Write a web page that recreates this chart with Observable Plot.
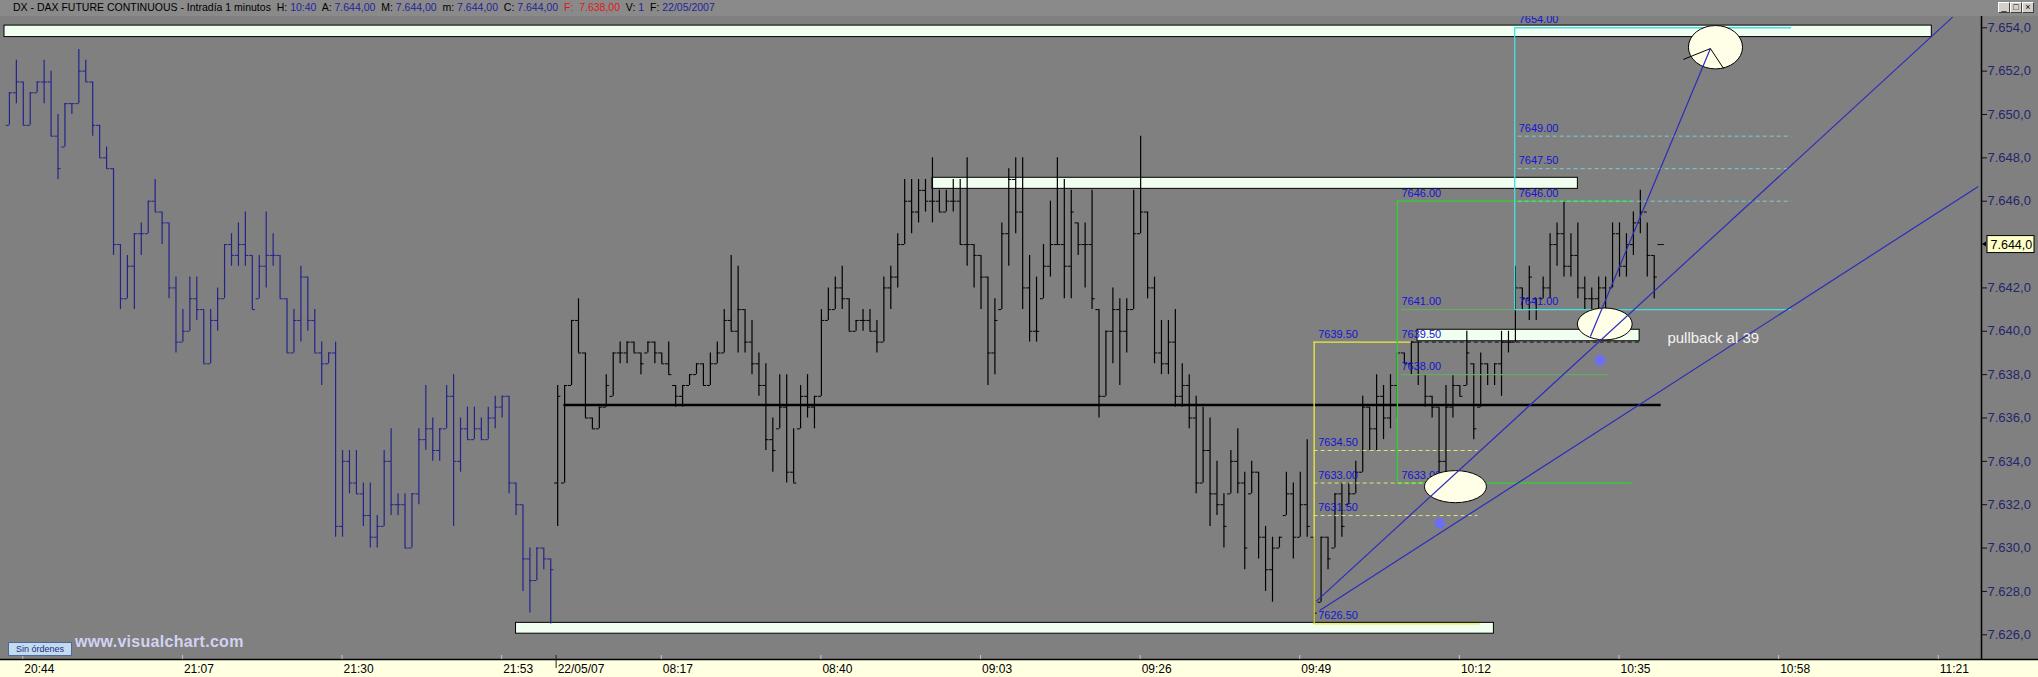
<!DOCTYPE html>
<html><head><meta charset="utf-8">
<script src="https://cdn.jsdelivr.net/npm/d3@7"></script>
<script src="https://cdn.jsdelivr.net/npm/@observablehq/plot@0.6"></script>
<style>
html,body{margin:0;padding:0;background:#808080;}
body{width:2038px;height:677px;overflow:hidden;position:relative;font-family:"Liberation Sans",Arial,sans-serif;}
#title{position:absolute;left:0;top:0;width:2038px;height:16px;background:#8a8a8a;z-index:5;font-size:10.5px;line-height:15px;white-space:pre;color:#000;}
#title .t{position:absolute;left:13px;top:0;}
#title .v{color:#24249c;}
#title .r{color:#e01818;}
#btns{position:absolute;left:1998px;top:2px;}
#btns div{position:absolute;top:0;width:10px;height:9px;background:#d4d0c8;border:1px solid;border-color:#fff #404040 #404040 #fff;font-size:9px;line-height:8px;text-align:center;color:#000;}
#chart{position:absolute;left:0;top:16px;}
#sin{position:absolute;left:8px;top:642px;width:62px;height:12px;background:#c4daf0;border:1px solid #4a6a9a;font-size:9px;line-height:12px;color:#1c2c7c;text-align:center;z-index:4;}
#web{position:absolute;left:75px;top:633px;font-size:16px;font-weight:bold;color:#d2d2f4;z-index:4;letter-spacing:0.3px;}
</style></head><body>
<div id="title"><span class="t">DX - DAX FUTURE CONTINUOUS - Intradía 1 minutos  H: <span class="v">10:40</span>  A: <span class="v">7.644,00</span>  M: <span class="v">7.644,00</span>  m: <span class="v">7.644,00</span>  C: <span class="v">7.644,00</span>  <span class="r">F:  7.638,00</span>  V: <span class="v">1</span>  F: <span class="v">22/05/2007</span></span>
<div id="btns"><div style="left:0">_</div><div style="left:12px">□</div><div style="left:24px">×</div></div></div>
<div id="chart"></div>
<div id="sin">Sin órdenes</div>
<div id="web">www.visualchart.com</div>
<script>
// ---------- OHLC data (1-minute bars), bar number 0 = 20:44 ----------
const firstBarIndex = -2;
const newSessionIndex = 77;
const barHigh = [
7651,7652.5,7651.5,7651,7651.5,7652.5,7652,7650,7650.5,7650.5,
7653,7652.5,7651.5,7649.5,7648.5,7647.5,7644,7643.5,7644.5,7645,
7646,7647,7645.5,7645,7642.5,7641,7642.5,7642.5,7641,7641,
7642,7644,7644.5,7645,7645.5,7643.5,7643.5,7645.5,7644.5,7643.5,
7641.5,7641,7643,7642.5,7641,7639.5,7639,7639.5,7634.5,7634.5,
7634.5,7633,7633,7631.5,7634.5,7635.5,7632.5,7632.5,7632.5,7635.5,
7637.5,7636,7635.5,7637.5,7638,7636,7636.5,7636.5,7636,7636.5,
7637,7637,7637,7633,7632,7630,7630,7630,7629.5,7637.5,
7637.5,7640.5,7641.5,7639,7636,7636.5,7638,7639,7639.5,7639.5,
7639.5,7639,7639.5,7639.5,7639,7639.5,7637.5,7637.5,7638,7638.5,
7638.5,7639,7639.5,7641,7643.5,7643,7641,7640.5,7639,7638.5,
7636,7638,7638,7635.5,7637.5,7638,7637,7641,7642,7642.5,
7643,7641.5,7640.5,7641,7641,7640.5,7642.5,7643,7644.5,7647,
7647,7647,7647,7648,7646.5,7646.5,7647,7647,7648,7644,
7643.5,7642.5,7641.5,7645,7647.5,7648,7648,7643.5,7642.5,7644,
7646,7648,7647,7646.5,7645,7645,7646.5,7641,7640,7642,
7641.5,7641.5,7646.5,7649,7645.5,7642.5,7640.5,7640.5,7641,7638.5,
7638,7637,7636.5,7636,7634,7632.5,7634.5,7635.5,7633.5,7634,
7633.5,7631,7630.5,7630.5,7633.5,7633,7633.5,7635,7630.5,7630.5,
7630.5,7632.5,7633,7633,7634,7637,7636.5,7638,7637.5,7638,
7639,7639,7639.5,7639.5,7638,7637,7636.5,7637.5,7638,7637.5,
7640,7638.5,7639,7638.5,7638.5,7640,7640,7643,7642,7643,
7641.5,7642.5,7644.5,7645,7646,7644.5,7645,7642.5,7642,7642.5,
7642.5,7645,7645,7644.5,7645.5,7646.5,7645,7643.5,7644];
const barLow = [
7649.5,7650.5,7649.5,7649.5,7651,7650.5,7649,7647,7648.5,7650,
7650.5,7651.5,7649,7648,7647.5,7643.5,7641,7641.5,7641,7643.5,
7644.5,7645.5,7644,7641.5,7639,7639.5,7640,7640.5,7638.5,7638.5,
7640,7641.5,7643,7643,7643,7641,7641.5,7642,7643,7641.5,
7639,7639,7639.5,7640,7639,7637.5,7638.5,7630.5,7630.5,7632.5,
7632.5,7631,7630,7630,7631,7631.5,7631.5,7630,7630,7632,
7634.5,7634,7634,7635.5,7631,7633.5,7635,7635,7635,7635,
7635.5,7636,7632.5,7631.5,7628,7627,7628.5,7629,7626.5,7631,
7633,7637.5,7639,7636,7635.5,7635.5,7636.5,7637,7638.5,7638.5,
7639,7638,7639,7638.5,7638.5,7638,7636.5,7636.5,7637.5,7638,
7637.5,7637.5,7638.5,7639,7640,7639,7639,7638,7637,7634.5,
7633.5,7635.5,7633,7633,7635.5,7636,7635.5,7637,7640.5,7641,
7641,7640,7640,7640,7640,7639,7639.5,7641,7642,7644,
7644.5,7645,7645.5,7645,7645.5,7645.5,7645.5,7644,7643,7642,
7641,7637.5,7638,7641,7643,7644.5,7641,7639.5,7639.5,7641.5,
7642.5,7644,7641.5,7641.5,7643.5,7642,7641,7636,7637,7638.5,
7637.5,7639,7641,7644.5,7641.5,7638.5,7638,7638,7636.5,7636.5,
7635.5,7632.5,7633,7631,7631.5,7630,7632.5,7632.5,7629,7632.5,
7629.5,7628,7627.5,7630,7631.5,7629.5,7630.5,7630.5,7626.5,7627.5,
7629,7630,7630.5,7632,7632.5,7633.5,7634.5,7634.5,7635,7635.5,
7636,7638.5,7638,7637.5,7636.5,7636,7633,7633.5,7636,7637,
7637.5,7635,7636.5,7637.5,7637.5,7637,7639,7639.5,7641,7640.5,
7640.5,7641.5,7641.5,7643,7642.5,7642.5,7641.5,7641,7640,7641,
7640.5,7642,7642.5,7642.5,7643.5,7644.5,7642.5,7641.5,7644];
const barOpen = [
7649.5,7651,7651.5,7649.5,7651,7651.5,7651.5,7649,7648.5,7650.5,
7650.5,7652,7651.5,7649.5,7648,7647.5,7644,7641.5,7643,7644.5,
7644.5,7646,7645.5,7645,7642,7639.5,7640,7641.5,7641,7638.5,
7640.5,7641.5,7644,7643.5,7644,7643.5,7641.5,7643,7643.5,7643.5,
7641.5,7639,7640.5,7642.5,7640.5,7639,7638.5,7639,7631,7634,
7633,7632.5,7631.5,7630.5,7631,7634,7632,7632,7630,7632.5,
7635,7635.5,7634.5,7635.5,7637,7634,7635.5,7635,7635.5,7635,
7636,7636.5,7637,7633,7632,7629.5,7628.5,7630,7629.5,7633,
7633,7637.5,7640.5,7639,7636,7635.5,7636.5,7637,7639,7639,
7639.5,7639,7639,7639.5,7639,7638.5,7637.5,7637,7637.5,7638,
7638.5,7637.5,7638.5,7639,7640.5,7640,7641,7639.5,7638.5,7637.5,
7635,7635.5,7636.5,7633.5,7635.5,7637,7636.5,7637,7640.5,7641,
7642,7641.5,7640,7640.5,7640.5,7640,7639.5,7642,7642.5,7644,
7646,7645.5,7646.5,7646,7646,7645.5,7646,7646,7644,7644,
7643.5,7642.5,7639,7641,7644.5,7647,7645.5,7642,7640,7641.5,
7643,7644,7644,7643,7645,7644,7644,7641,7637,7640,
7641,7640,7641,7644.5,7645.5,7642,7639,7638.5,7639.5,7637,
7637.5,7636,7633,7634.5,7632.5,7632,7632.5,7634,7633,7632.5,
7633.5,7630.5,7629,7630,7631.5,7632.5,7630.5,7632,7630.5,7627.5,
7630.5,7630,7632.5,7632,7632.5,7633.5,7636.5,7635.5,7637,7636,
7637.5,7639,7638.5,7639.5,7638,7637,7636.5,7634,7636.5,7637.5,
7637.5,7638.5,7636.5,7638.5,7638,7638.5,7639.5,7639.5,7642,7641.5,
7641.5,7641.5,7642,7644,7644.5,7643,7643.5,7642,7641.5,7641.5,
7642,7642,7644.5,7643,7644,7645,7645.5,7643.5,7644];
const barClose = [
7651,7651.5,7649.5,7651,7651.5,7651.5,7649,7647.5,7650.5,7650.5,
7652,7651.5,7649.5,7648,7647.5,7644,7641.5,7643,7644.5,7644.5,
7646,7645.5,7645,7642,7639.5,7640,7641.5,7641,7638.5,7640.5,
7641.5,7644,7643.5,7644,7643.5,7641,7643,7643.5,7643.5,7641.5,
7639,7640.5,7642.5,7640.5,7639,7638.5,7639,7631,7634,7633,
7632.5,7631.5,7630.5,7631,7634,7632,7632,7630,7632.5,7635,
7635.5,7634.5,7635.5,7637,7634,7635.5,7635,7635.5,7635,7636,
7636.5,7637,7633,7632,7629.5,7628.5,7630,7629.5,7629,7637,
7637.5,7640.5,7639,7636,7635.5,7636.5,7637.5,7639,7639,7639.5,
7639,7638.5,7639.5,7639,7638.5,7638,7637,7637.5,7638,7638.5,
7637.5,7638.5,7639,7640.5,7640,7641,7639.5,7638.5,7637.5,7635,
7634.5,7636.5,7633.5,7633,7637,7636.5,7637,7640.5,7641,7642,
7641.5,7640,7640.5,7640.5,7640,7639.5,7642,7642.5,7644,7646,
7645.5,7646.5,7646,7646,7645.5,7646,7646,7644,7644,7643.5,
7642.5,7639,7640.5,7644.5,7647,7645.5,7642,7640,7640,7643,
7644,7644,7643,7645.5,7644,7644,7641.5,7637,7640,7641,
7640,7641,7644.5,7645.5,7642,7639,7638.5,7639.5,7637,7637.5,
7636,7633,7634.5,7632.5,7632,7631,7634,7633,7630,7633.5,
7630.5,7629,7630,7630.5,7632.5,7630.5,7632,7631,7627,7630.5,
7629.5,7632.5,7631,7632.5,7633.5,7636.5,7635.5,7637,7636,7637.5,
7639,7638.5,7639.5,7638,7637,7636.5,7634,7636.5,7637.5,7637,
7639,7635.5,7638.5,7638,7638.5,7639.5,7639.5,7642,7641.5,7642.5,
7641,7642,7644,7644.5,7643,7643.5,7642,7641.5,7641.5,7642,
7641,7644.5,7643,7644,7645,7645.5,7643.5,7642.5,7644];

// ---------- axes ----------
const yTicks = [7626,7628,7630,7632,7634,7636,7638,7640,7642,7646,7648,7650,7652,7654];
const yTickLabels = ["7.626,0","7.628,0","7.630,0","7.632,0","7.634,0","7.636,0","7.638,0","7.640,0","7.642,0","7.646,0","7.648,0","7.650,0","7.652,0","7.654,0"];
const lastPrice = 7644;
const lastPriceLabel = "7.644,0";
const xTickPos = [0,23,46,69,76.85,92,115,138,161,184,207,230,253,276];
const xTickLabels = ["20:44","21:07","21:30","21:53","22/05/07","08:17","08:40","09:03","09:26","09:49","10:12","10:35","10:58","11:21"];
const dateTickPos = 76.85;

// ---------- annotations (bar number / price) ----------
const bandX1 = [-2.71, 131.0, 200.9, 71.0];
const bandX2 = [275.0, 224.0, 232.9, 211.9];
const bandLo = [7653.57, 7646.57, 7639.54, 7626.05];
const bandHi = [7654.10, 7647.08, 7640.07, 7626.55];

const pivotLevel = 7636.6, pivotStart = 77.9, pivotEnd = 236.0;

// retracement boxes: cyan, green, yellow
const solidLevel = [7654, 7641, 7646, 7633, 7639.5, 7626.5, 7641, 7638];
const solidX1    = [214.9, 214.9, 198.0, 198.0, 186.0, 186.0, 198.6, 198.6];
const solidX2    = [254.8, 254.8, 231.8, 231.8, 200.0, 209.9, 214.9, 228.5];
const solidColor = ["#3fe2e2","#3fe2e2","#2ed42e","#2ed42e","#ecec3c","#ecec3c","#66a866","#66a866"];
const dashLevel = [7649, 7647.5, 7646, 7634.5, 7633, 7631.5, 7639.5];
const dashX1    = [215.4, 215.4, 215.4, 186.0, 186.0, 186.0, 200.0];
const dashX2    = [254.8, 254.8, 254.8, 209.6, 209.6, 209.6, 232.9];
const dashColor = ["#74d2d2","#74d2d2","#74d2d2","#e4e46c","#e4e46c","#e4e46c","#111111"];
const vertX  = [214.9, 198.0, 186.0];
const vertY1 = [7641, 7633, 7626.5];
const vertY2 = [7654, 7646, 7639.5];
const vertColor = ["#3fe2e2","#2ed42e","#ecec3c"];
const levelLabelX = [214.9,214.9,214.9,214.9,214.9, 198.0,198.0,198.0,198.0,198.0, 186.0,186.0,186.0,186.0,186.0];
const levelLabelY = [7654,7649,7647.5,7646,7641, 7646,7641,7639.5,7638,7633, 7639.5,7634.5,7633,7631.5,7626.5];
const levelLabelText = ["7654.00","7649.00","7647.50","7646.00","7641.00","7646.00","7641.00","7639.50","7638.00","7633.00","7639.50","7634.50","7633.00","7631.50","7626.50"];

// trend lines (A, B) and target arrow (C)
const trendX1 = [186.3, 186.8, 225.8];
const trendY1 = [7627.54, 7627.12, 7639.76];
const trendX2 = [278.0, 281.7, 243.1];
const trendY2 = [7654.49, 7646.68, 7653.04];
const arrowTip = [243.1, 7653.04];
const arrowWingX = [239.2, 245.0];
const arrowWingY = [7652.54, 7652.12];

// ellipses (bounding boxes)
const ellX1 = [240.0, 224.0, 201.96];
const ellX2 = [247.8, 231.9, 210.9];
const ellY1 = [7652.08, 7639.58, 7632.07];
const ellY2 = [7654.08, 7641.05, 7633.55];

const markerX = [227.2, 204.1];
const markerY = [7638.66, 7631.15];
const noteText = "pullback al 39", noteX = 236.9, noteY = 7639.67;

// ---------- build ----------
const bars = barHigh.map((h, k) => ({i: firstBarIndex + k, h, l: barLow[k], o: barOpen[k], c: barClose[k]}));
const barColor = d => d.i < newSessionIndex ? "#23238c" : "#000000";
const bands = bandX1.map((x1, k) => ({x1, x2: bandX2[k], y1: bandLo[k], y2: bandHi[k]}));
const solids = solidLevel.map((y, k) => ({y, x1: solidX1[k], x2: solidX2[k], c: solidColor[k]}));
const dashes = dashLevel.map((y, k) => ({y, x1: dashX1[k], x2: dashX2[k], c: dashColor[k]}));
const verts = vertX.map((x, k) => ({x, y1: vertY1[k], y2: vertY2[k], c: vertColor[k]}));
const levelLabels = levelLabelText.map((t, k) => ({t, x: levelLabelX[k], y: levelLabelY[k]}));
const trends = trendX1.map((x1, k) => ({x1, y1: trendY1[k], x2: trendX2[k], y2: trendY2[k]}));
const wings = arrowWingX.map((x, k) => ({x1: arrowTip[0], y1: arrowTip[1], x2: x, y2: arrowWingY[k]}));
const markers = markerX.map((x, k) => ({x, y: markerY[k]}));
const yLabelMap = new Map(yTicks.map((t, k) => [t, yTickLabels[k]]));
const xLabelMap = new Map(xTickPos.map((t, k) => [t, xTickLabels[k]]));

const TREND = "#2c2cbd", LASTFILL = "#010101";
const chart = Plot.plot({
  width: 2038, height: 661,
  marginLeft: 0, marginRight: 57, marginTop: 0, marginBottom: 18,
  x: {domain: [-3.285, 282.16], axis: null},
  y: {domain: [7624.86, 7654.52], axis: null},
  style: {background: "#808080", fontFamily: "'Liberation Sans', Arial, sans-serif", overflow: "visible"},
  marks: [
    Plot.rect(bands, {x1: "x1", x2: "x2", y1: "y1", y2: "y2", fill: "#f0fff0", stroke: "#000", strokeWidth: 1}),
    Plot.ruleX(bars, {x: "i", y1: "l", y2: "h", stroke: barColor, strokeWidth: 1.2}),
    Plot.ruleY(bars, {y: "o", x1: d => d.i - 0.45, x2: "i", stroke: barColor, strokeWidth: 1}),
    Plot.ruleY(bars, {y: "c", x1: "i", x2: d => d.i + 0.45, stroke: barColor, strokeWidth: 1}),
    Plot.ruleY([pivotLevel], {x1: pivotStart, x2: pivotEnd, stroke: "#000", strokeWidth: 2.6}),
    Plot.ruleY(solids, {y: "y", x1: "x1", x2: "x2", stroke: "c", strokeWidth: 1.3}),
    Plot.ruleY(dashes, {y: "y", x1: "x1", x2: "x2", stroke: "c", strokeWidth: 1, strokeDasharray: "4,3"}),
    Plot.ruleX(verts, {x: "x", y1: "y1", y2: "y2", stroke: "c", strokeWidth: 1.3}),
    Plot.text(levelLabels, {x: "x", y: "y", text: "t", dx: 4, dy: -8, textAnchor: "start", fill: "#1414d2", fontSize: 11}),
    Plot.link(trends, {x1: "x1", y1: "y1", x2: "x2", y2: "y2", stroke: TREND, strokeWidth: 1.2}),
    Plot.link(wings, {x1: "x1", y1: "y1", x2: "x2", y2: "y2", stroke: "#000", strokeWidth: 1}),
    Plot.dot(markers, {x: "x", y: "y", r: 5.5, fill: "#6e6ef0", stroke: "none"}),
    Plot.text([noteText], {x: noteX, y: noteY, text: d => d, textAnchor: "start", fill: "#f4f4f4", fontSize: 15}),
    Plot.axisY({ticks: yTicks, anchor: "right", tickSize: 5, tickPadding: 1, tickFormat: d => yLabelMap.get(d), fontSize: 13, fill: "#25256c", stroke: "#111"}),
    Plot.text([lastPriceLabel], {y: [lastPrice], frameAnchor: "right", dx: 9, textAnchor: "start", text: d => d, fill: LASTFILL, fontSize: 12.5}),
    Plot.axisX({ticks: xTickPos, anchor: "bottom", tickSize: 0, tickPadding: 5, tickFormat: d => xLabelMap.get(d), textAnchor: "start", dx: 1, fontSize: 12, fill: "#000"})
  ]
});
document.getElementById("chart").appendChild(chart);

// ---------- chrome drawn with the plot's own scales ----------
const svg = d3.select(chart);
const xs = chart.scale("x"), ys = chart.scale("y");
const X = v => xs.apply(v), Y = v => ys.apply(v);
const [xl, xr] = xs.range, [yb, yt] = ys.range;
function markGroup(attr, val) {
  const el = chart.querySelector(`[${attr}="${val}"]`);
  if (!el) return null;
  let g = el;
  while (g.parentNode && g.parentNode !== chart) g = g.parentNode;
  return g.parentNode === chart ? g : null;
}
svg.insert("rect", ":first-child").attr("x", 0).attr("y", yb).attr("width", 2038).attr("height", 661 - yb).attr("fill", "#ffffe1");
svg.append("line").attr("x1", 0).attr("x2", 2038).attr("y1", yb + 0.5).attr("y2", yb + 0.5).attr("stroke", "#000").attr("stroke-width", 1.5);
svg.append("line").attr("x1", xr + 0.5).attr("x2", xr + 0.5).attr("y1", 0).attr("y2", yb).attr("stroke", "#000").attr("stroke-width", 1.5);
xTickPos.forEach(p => {
  const big = p === dateTickPos;
  svg.append("line").attr("x1", X(p)).attr("x2", X(p)).attr("y1", yb - 4).attr("y2", big ? yb + 9 : yb)
    .attr("stroke", big ? "#222" : "#c4c4c4").attr("stroke-width", 1);
});
// ellipses, beneath the trend lines
const trendG = markGroup("stroke", TREND);
const eg = trendG ? svg.insert("g", () => trendG) : svg.append("g");
ellX1.forEach((x1, k) => {
  const cx = (X(x1) + X(ellX2[k])) / 2, cy = (Y(ellY1[k]) + Y(ellY2[k])) / 2;
  eg.append("ellipse").attr("cx", cx).attr("cy", cy)
    .attr("rx", Math.abs(X(ellX2[k]) - X(x1)) / 2).attr("ry", Math.abs(Y(ellY1[k]) - Y(ellY2[k])) / 2)
    .attr("fill", "#ffffe8").attr("stroke", "#000").attr("stroke-width", 1);
});
// last price box, beneath its label
const ly = Y(lastPrice);
const lastG = markGroup("fill", LASTFILL);
const box = lastG ? svg.insert("rect", () => lastG) : svg.insert("rect", ":first-child");
box.attr("x", xr + 6).attr("y", ly - 8.5).attr("width", 47).attr("height", 17)
  .attr("fill", "#ffffc8").attr("stroke", "#000").attr("stroke-width", 1);
svg.append("path").attr("d", `M${xr + 1},${ly} l4,-2.5 v5 z`).attr("fill", "#000");
</script>
</body></html>
